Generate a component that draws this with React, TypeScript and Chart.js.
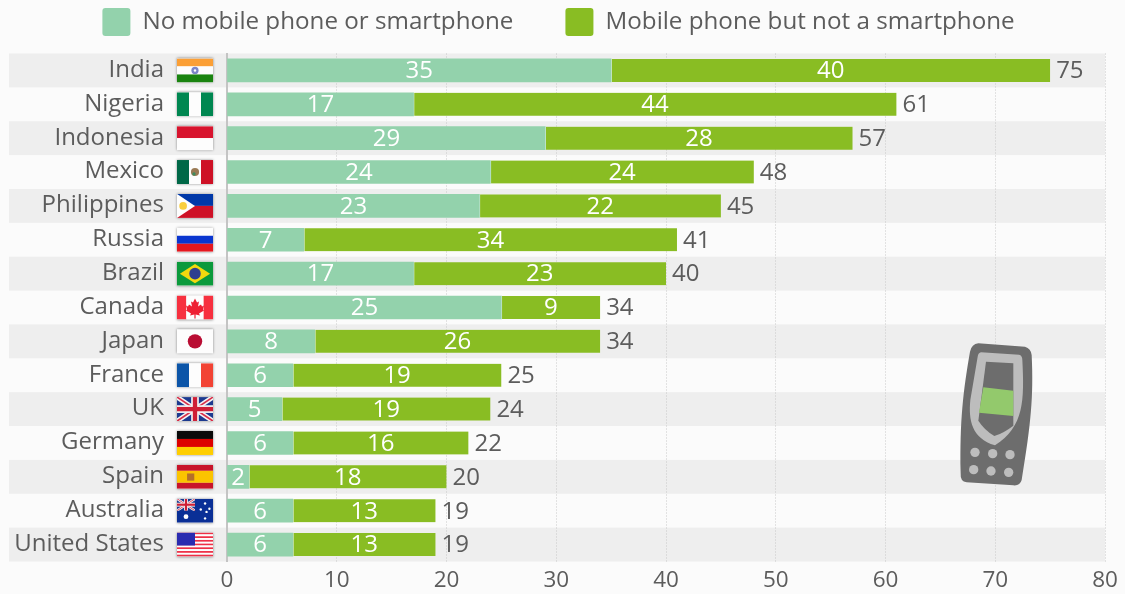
import React, { useEffect, useRef } from "react";
import { Chart, registerables } from "chart.js";

Chart.register(...registerables);

const countries = ["India", "Nigeria", "Indonesia", "Mexico", "Philippines", "Russia", "Brazil", "Canada", "Japan", "France", "UK", "Germany", "Spain", "Australia", "United States"];
const noPhone = [35, 17, 29, 24, 23, 7, 17, 25, 8, 6, 5, 6, 2, 6, 6];
const basicPhone = [40, 44, 28, 24, 22, 34, 23, 9, 26, 19, 19, 16, 18, 13, 13];
const seriesNames = ["No mobile phone or smartphone", "Mobile phone but not a smartphone"];
const xTicks = [0, 10, 20, 30, 40, 50, 60, 70, 80];

const FONT = '"Open Sans"';
const TEXT = "#5c5c5c";
const LIGHT = "#93d2ac";
const GREEN = "#89bd23";
const BAND = "#eeeeee";
const PAGE = "#fbfbfb";

type C = CanvasRenderingContext2D;

function hBands(c: C, x: number, y: number, w: number, h: number, cols: string[], sizes?: number[]) {
  let cy = y;
  cols.forEach((col, i) => {
    const s = (sizes ? sizes[i] : 1 / cols.length) * h;
    c.fillStyle = col;
    c.fillRect(x, cy, w, s);
    cy += s;
  });
}
function vBands(c: C, x: number, y: number, w: number, h: number, cols: string[], sizes?: number[]) {
  let cx = x;
  cols.forEach((col, i) => {
    const s = (sizes ? sizes[i] : 1 / cols.length) * w;
    c.fillStyle = col;
    c.fillRect(cx, y, s, h);
    cx += s;
  });
}
function dot(c: C, x: number, y: number, r: number, col: string) {
  c.fillStyle = col;
  c.beginPath();
  c.arc(x, y, r, 0, Math.PI * 2);
  c.fill();
}
function poly(c: C, pts: number[][], col: string) {
  c.fillStyle = col;
  c.beginPath();
  pts.forEach((p, i) => (i ? c.lineTo(p[0], p[1]) : c.moveTo(p[0], p[1])));
  c.closePath();
  c.fill();
}
function union(c: C, x: number, y: number, w: number, h: number) {
  c.save();
  c.beginPath();
  c.rect(x, y, w, h);
  c.clip();
  c.fillStyle = "#1c3a8f";
  c.fillRect(x, y, w, h);
  const cross = (col: string, lw: number) => {
    c.strokeStyle = col;
    c.lineWidth = lw;
    c.beginPath();
    c.moveTo(x, y);
    c.lineTo(x + w, y + h);
    c.moveTo(x + w, y);
    c.lineTo(x, y + h);
    c.stroke();
  };
  cross("#f4f4f4", h * 0.2);
  cross("#d8304a", h * 0.07);
  c.fillStyle = "#f4f4f4";
  c.fillRect(x + w / 2 - h * 0.16, y, h * 0.32, h);
  c.fillRect(x, y + h / 2 - h * 0.16, w, h * 0.32);
  c.fillStyle = "#cf1f36";
  c.fillRect(x + w / 2 - h * 0.09, y, h * 0.18, h);
  c.fillRect(x, y + h / 2 - h * 0.09, w, h * 0.18);
  c.restore();
}

const flagPainters: Record<string, (c: C, x: number, y: number, w: number, h: number) => void> = {
  India(c, x, y, w, h) {
    hBands(c, x, y, w, h, ["#fb9f35", "#fdfdfd", "#1a8410"]);
    dot(c, x + w / 2, y + h / 2, h * 0.15, "#7c86c8");
    dot(c, x + w / 2, y + h / 2, h * 0.05, "#ffffff");
  },
  Nigeria(c, x, y, w, h) {
    vBands(c, x, y, w, h, ["#008751", "#fdfdfd", "#008751"]);
  },
  Indonesia(c, x, y, w, h) {
    hBands(c, x, y, w, h, ["#d8142e", "#fdfdfd"]);
  },
  Mexico(c, x, y, w, h) {
    vBands(c, x, y, w, h, ["#006847", "#fdfdfd", "#ce1126"]);
    dot(c, x + w / 2, y + h / 2, h * 0.17, "#9a7a55");
    dot(c, x + w / 2 - 1, y + h / 2 + 2, h * 0.07, "#3f8a5f");
  },
  Philippines(c, x, y, w, h) {
    hBands(c, x, y, w, h, ["#0038a8", "#ce1126"]);
    poly(c, [[x, y], [x + w * 0.5, y + h / 2], [x, y + h]], "#fdfdfd");
    dot(c, x + w * 0.17, y + h / 2, h * 0.16, "#f9cf3d");
  },
  Russia(c, x, y, w, h) {
    hBands(c, x, y, w, h, ["#fdfdfd", "#0a36d0", "#e5171f"]);
  },
  Brazil(c, x, y, w, h) {
    c.fillStyle = "#0b9a3c";
    c.fillRect(x, y, w, h);
    poly(c, [[x + w * 0.08, y + h / 2], [x + w / 2, y + h * 0.1], [x + w * 0.92, y + h / 2], [x + w / 2, y + h * 0.9]], "#f2d90e");
    dot(c, x + w / 2, y + h / 2, h * 0.24, "#2f3f8f");
  },
  Canada(c, x, y, w, h) {
    vBands(c, x, y, w, h, ["#f7303f", "#fdfdfd", "#f7303f"], [0.26, 0.48, 0.26]);
    const u = h / 24;
    const cx = x + w / 2;
    const cy = y + h / 2;
    const leaf = [[0, -9], [2, -5], [4, -6], [3, -1], [6, -3], [7, -1], [9, -2], [8, 2], [9, 3], [4, 6], [5, 8], [0.6, 7], [0.6, 11], [-0.6, 11], [-0.6, 7], [-5, 8], [-4, 6], [-9, 3], [-8, 2], [-9, -2], [-7, -1], [-6, -3], [-3, -1], [-4, -6], [-2, -5]];
    poly(c, leaf.map((p) => [cx + p[0] * u, cy + p[1] * u]), "#ee2033");
  },
  Japan(c, x, y, w, h) {
    c.fillStyle = "#fdfdfd";
    c.fillRect(x, y, w, h);
    dot(c, x + w / 2, y + h / 2, h * 0.3, "#b90d33");
  },
  France(c, x, y, w, h) {
    vBands(c, x, y, w, h, ["#0c55a8", "#fdfdfd", "#f24334"]);
  },
  UK(c, x, y, w, h) {
    union(c, x, y, w, h);
  },
  Germany(c, x, y, w, h) {
    hBands(c, x, y, w, h, ["#0a0a0a", "#dd0000", "#ffce00"]);
  },
  Spain(c, x, y, w, h) {
    hBands(c, x, y, w, h, ["#c8142a", "#fbc400", "#c8142a"], [0.25, 0.5, 0.25]);
    c.fillStyle = "#b5702a";
    c.fillRect(x + w * 0.28, y + h * 0.36, w * 0.2, h * 0.3);
  },
  Australia(c, x, y, w, h) {
    c.fillStyle = "#0a2f96";
    c.fillRect(x, y, w, h);
    union(c, x, y, w / 2, h / 2);
    dot(c, x + w * 0.25, y + h * 0.75, h * 0.1, "#fdfdfd");
    [[0.78, 0.2], [0.66, 0.45], [0.9, 0.42], [0.78, 0.82], [0.82, 0.55]].forEach((p) => dot(c, x + w * p[0], y + h * p[1], h * 0.05, "#fdfdfd"));
  },
  "United States"(c, x, y, w, h) {
    const stripes = Array.from({ length: 13 }, (_, i) => (i % 2 ? "#fdfdfd" : "#ee2f46"));
    hBands(c, x, y, w, h, stripes);
    c.fillStyle = "#2a2bb0";
    c.fillRect(x, y, w * 0.5, h * 0.54);
  },
};

const backdropPlugin = {
  id: "backdrop",
  afterLayout(chart: any) {
    chart.legend.top = -44;
  },
  beforeDraw(chart: any) {
    const { ctx, width, height, chartArea, scales } = chart;
    ctx.save();
    ctx.fillStyle = PAGE;
    ctx.fillRect(0, 0, width, height);
    const step = (scales.y.bottom - scales.y.top) / countries.length;
    ctx.fillStyle = BAND;
    countries.forEach((_, i) => {
      if (i % 2) return;
      const yc = scales.y.getPixelForTick(i);
      ctx.fillRect(9, yc - step / 2, chartArea.right - 9, step);
    });
    ctx.restore();
  },
};

const labelsPlugin = {
  id: "barLabels",
  afterDatasetsDraw(chart: any) {
    const { ctx } = chart;
    const a = chart.getDatasetMeta(0).data;
    const b = chart.getDatasetMeta(1).data;
    ctx.save();
    ctx.textBaseline = "middle";
    ctx.font = `24px ${FONT}`;
    countries.forEach((_, i) => {
      ctx.fillStyle = "#ffffff";
      ctx.textAlign = "center";
      ctx.fillText(String(noPhone[i]), (a[i].x + a[i].base) / 2, a[i].y + 1);
      ctx.fillText(String(basicPhone[i]), (b[i].x + b[i].base) / 2, b[i].y + 1);
      ctx.fillStyle = TEXT;
      ctx.textAlign = "left";
      ctx.fillText(String(noPhone[i] + basicPhone[i]), b[i].x + 6, b[i].y + 1);
    });
    ctx.restore();
  },
};

const flagsPlugin = {
  id: "flags",
  afterDraw(chart: any) {
    const { ctx, scales, chartArea } = chart;
    const w = 36;
    const h = 24;
    const x = chartArea.left - 50;
    countries.forEach((name, i) => {
      const y = scales.y.getPixelForTick(i) - h / 2;
      ctx.save();
      ctx.shadowColor = "rgba(0,0,0,0.45)";
      ctx.shadowBlur = 2.5;
      ctx.fillStyle = "#fff";
      ctx.fillRect(x, y, w, h);
      ctx.restore();
      ctx.save();
      ctx.beginPath();
      ctx.rect(x, y, w, h);
      ctx.clip();
      flagPainters[name](ctx, x, y, w, h);
      ctx.restore();
    });
  },
};

const phonePlugin = {
  id: "phone",
  afterDraw(chart: any) {
    const { ctx } = chart;
    const ox = 925;
    const oy = 330;
    const k = 1 / 3;
    ctx.save();
    ctx.translate(ox, oy);
    ctx.scale(k, k);
    ctx.fillStyle = "#6d6d6d";
    ctx.beginPath();
    ctx.moveTo(160, 40);
    ctx.lineTo(300, 50);
    ctx.quadraticCurveTo(318, 55, 320, 75);
    ctx.bezierCurveTo(326, 200, 318, 280, 290, 450);
    ctx.quadraticCurveTo(285, 468, 265, 466);
    ctx.lineTo(125, 457);
    ctx.quadraticCurveTo(105, 455, 107, 430);
    ctx.bezierCurveTo(104, 270, 115, 180, 135, 65);
    ctx.quadraticCurveTo(140, 42, 160, 40);
    ctx.closePath();
    ctx.fill();
    ctx.fillStyle = "#bdbdbd";
    ctx.beginPath();
    ctx.moveTo(168, 67);
    ctx.lineTo(282, 74);
    ctx.quadraticCurveTo(292, 76, 292, 90);
    ctx.bezierCurveTo(298, 210, 298, 290, 210, 346);
    ctx.bezierCurveTo(140, 325, 130, 270, 136, 210);
    ctx.lineTo(158, 80);
    ctx.quadraticCurveTo(160, 68, 168, 67);
    ctx.closePath();
    ctx.fill();
    ctx.fillStyle = "#6d6d6d";
    ctx.beginPath();
    ctx.moveTo(183, 95);
    ctx.lineTo(265, 100);
    ctx.lineTo(265, 287);
    ctx.quadraticCurveTo(235, 310, 208, 318);
    ctx.quadraticCurveTo(178, 300, 160, 272);
    ctx.closePath();
    ctx.fill();
    ctx.fillStyle = "#93c96c";
    ctx.beginPath();
    ctx.moveTo(175, 172);
    ctx.lineTo(265, 182);
    ctx.lineTo(265, 258);
    ctx.lineTo(162, 248);
    ctx.closePath();
    ctx.fill();
    [[150, 367], [203, 371], [255, 374], [146, 419], [198, 423], [251, 427]].forEach((p) => dot(ctx, p[0], p[1], 14, "#bdbdbd"));
    ctx.restore();
  },
};

export default function App() {
  const ref = useRef<HTMLCanvasElement>(null);
  useEffect(() => {
    const chart = new Chart(ref.current as HTMLCanvasElement, {
      type: "bar",
      data: {
        labels: countries,
        datasets: [
          { label: seriesNames[0], data: noPhone, backgroundColor: LIGHT, barThickness: 23 },
          { label: seriesNames[1], data: basicPhone, backgroundColor: GREEN, borderColor: "#ffffff", borderWidth: { left: 1 }, borderSkipped: false, barThickness: 23 },
        ],
      } as any,
      options: {
        indexAxis: "y",
        responsive: false,
        animation: false,
        layout: { padding: { left: 12, right: 20, top: 0, bottom: 0 } },
        plugins: {
          tooltip: { enabled: false },
          legend: {
            position: "top",
            align: "center",
            maxHeight: 53.5,
            labels: {
              boxWidth: 28,
              boxHeight: 28,
              padding: 52,
              color: TEXT,
              font: { family: FONT, size: 24.2 },
              useBorderRadius: true,
              borderRadius: 3,
              generateLabels(c: any) {
                return Chart.defaults.plugins.legend.labels.generateLabels(c).map((l: any) => ({ ...l, lineWidth: 0, strokeStyle: "transparent" }));
              },
            },
          },
        },
        scales: {
          x: {
            stacked: true,
            min: 0,
            max: 80,
            afterBuildTicks(s: any) {
              s.ticks = xTicks.map((value) => ({ value }));
            },
            afterFit(s: any) {
              s.height = 32.5;
            },
            border: { display: false, dash: [1, 2] },
            grid: { color: "#c9c9c9", lineWidth: 1, drawTicks: false },
            ticks: { color: TEXT, font: { family: FONT, size: 22.5 }, padding: 6, maxRotation: 0 },
          },
          y: {
            stacked: true,
            afterFit(s: any) {
              s.width = 215;
            },
            border: { display: true, color: "#c4c4c4", width: 2 },
            grid: { display: true, color: "transparent", tickColor: "transparent", drawOnChartArea: false, drawTicks: true, tickLength: 63 },
            ticks: { color: TEXT, font: { family: FONT, size: 24 }, padding: 0, labelOffset: -0.5, autoSkip: false },
          },
        },
      } as any,
      plugins: [backdropPlugin, labelsPlugin, flagsPlugin, phonePlugin],
    });
    return () => chart.destroy();
  }, []);
  return (
    <div style={{ position: "fixed", left: 0, top: 0, width: 1125, height: 594 }}>
      <canvas ref={ref} width={1125} height={594} style={{ display: "block", filter: "blur(0.35px)" }} />
    </div>
  );
}
